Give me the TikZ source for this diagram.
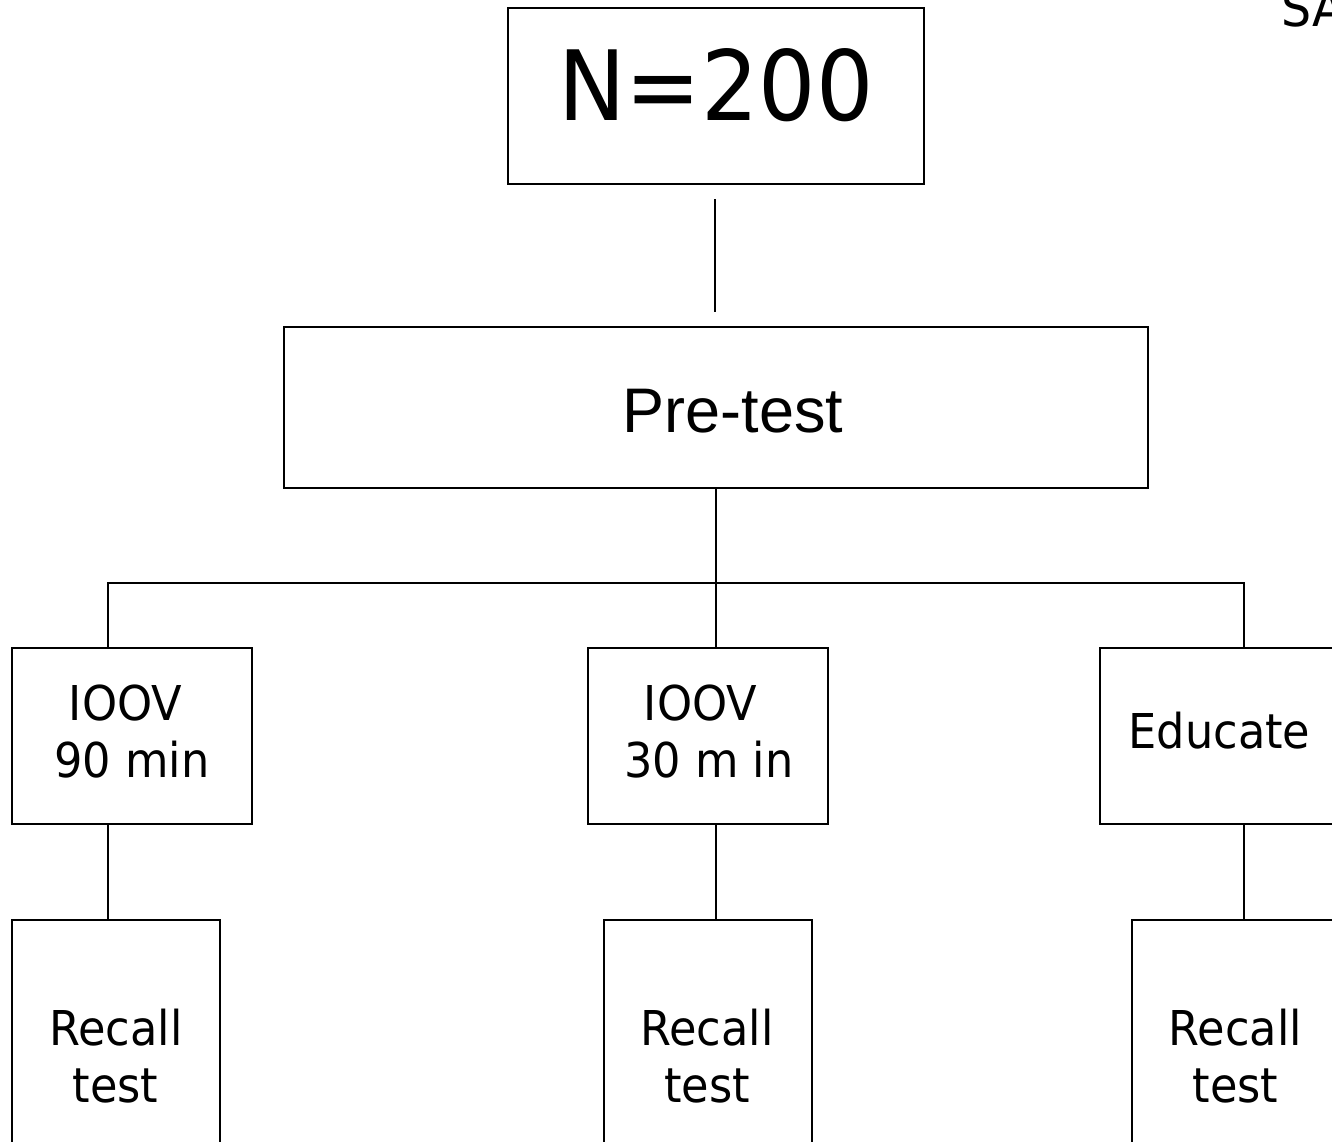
\documentclass[tikz,border=0pt]{standalone}
\usepackage{fontspec}
\setmainfont{DejaVu Sans}[FakeStretch=0.93]
\newfontfamily\arialf{Liberation Sans}
\begin{document}
\begin{tikzpicture}[x=1pt,y=-1pt,
  box/.style={draw, line width=2.8pt, inner sep=0pt, fill=none},
  conn/.style={line width=2.6pt},
  lbl/.style={inner sep=0pt, anchor=base, font=\fontsize{48}{57}\selectfont}]
\useasboundingbox (0,0) rectangle (1332,1142);
\clip (0,0) rectangle (1332,1142);
% boxes
\node[box, minimum width=416pt, minimum height=176pt] (n) at (716,96) {};
\node[box, minimum width=864pt, minimum height=161pt] (pre) at (716,407.5) {};
\node[box, minimum width=240pt, minimum height=176pt] (b1) at (132,736) {};
\node[box, minimum width=240pt, minimum height=176pt] (b2) at (708,736) {};
\node[box, minimum width=240pt, minimum height=176pt] (b3) at (1220,736) {};
\node[box, minimum width=208pt, minimum height=274pt] (r1) at (116,1057) {};
\node[box, minimum width=208pt, minimum height=274pt] (r2) at (708,1057) {};
\node[box, minimum width=208pt, minimum height=274pt] (r3) at (1236,1057) {};
% texts
\node[inner sep=0pt, anchor=base, font=\fontsize{97}{97}\selectfont] (ntxt) at (716,121) {N=200};
\node[inner sep=0pt, anchor=base, font=\arialf\fontsize{63}{63}\selectfont] (pretxt) at (733,432) {Pre-test};
\node[lbl] (b1a) at (125.5,720) {IOOV};
\node[lbl] (b1b) at (132,777) {90 min};
\node[lbl] (b2a) at (700.5,720) {IOOV};
\node[lbl] (b2b) at (709,777) {30 m in};
\node[lbl] (b3a) at (1219.5,748) {Educate};
\node[lbl] (r1a) at (116,1045) {Recall};
\node[lbl] (r1b) at (115.5,1102) {test};
\node[lbl] (r2a) at (707,1045) {Recall};
\node[lbl] (r2b) at (707,1102) {test};
\node[lbl] (r3a) at (1235.5,1045) {Recall};
\node[lbl] (r3b) at (1235.5,1102) {test};
\node[inner sep=0pt, anchor=base west, font=\fontsize{51}{51}\selectfont] (sa) at (1281,27) {SA};
% connectors
\coordinate (t1) at (715,199);
\coordinate (t2) at (715,312);
\draw[conn] (t1) -- (t2);
\draw[conn] (pre.south) -- (pre.south |- b2.north);
\coordinate (c1) at (108,583);
\coordinate (c3) at (1244,583);
\draw[conn] (c1 |- b1.north) -- (c1) -- (c3) -- (c3 |- b3.north);
\draw[conn] (c1 |- b1.south) -- (c1 |- r1.north);
\draw[conn] (pre.south |- b2.south) -- (pre.south |- r2.north);
\draw[conn] (c3 |- b3.south) -- (c3 |- r3.north);
\end{tikzpicture}
\end{document}
